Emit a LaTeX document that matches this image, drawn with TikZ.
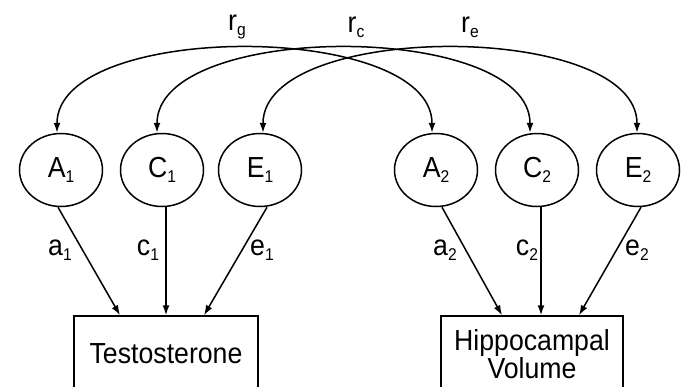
\documentclass[tikz,border=0pt]{standalone}
\usepackage{fontspec}
\setmainfont[FakeStretch=0.92]{Liberation Sans}
\usetikzlibrary{positioning,shapes.geometric,arrows.meta,calc}
\newcommand{\subidx}[1]{\raisebox{-0.3ex}{\fontsize{17}{17}\selectfont #1}}

\begin{document}
\begin{tikzpicture}[
  x=1pt, y=-1pt,
  font=\fontsize{29}{28}\selectfont,
  latent/.style={
    shape=ellipse,
    draw,
    line width=1.5pt,
    minimum width=83pt,
    minimum height=73pt,
    inner sep=0pt,
  },
  observed/.style={
    shape=rectangle,
    draw,
    line width=1.5pt,
    minimum width=184pt,
    minimum height=76pt,
    align=center,
  },
  lbl/.style={inner sep=0pt},
  loading/.style={line width=1.5pt, -{Latex[length=10pt,width=7pt]}},
  corr/.style={line width=1.5pt,
    {Latex[length=10pt,width=7pt]}-{Latex[length=10pt,width=7pt]}},
  ]
  \useasboundingbox (0,0) rectangle (684,386);
  \node[latent] (A1) at (61,170) {A\subidx{1}};
  \node[latent] (C1) at (162,170) {C\subidx{1}};
  \node[latent] (E1) at (260,170) {E\subidx{1}};
  \node[latent] (A2) at (436,170) {A\subidx{2}};
  \node[latent] (C2) at (537,170) {C\subidx{2}};
  \node[latent] (E2) at (638,170) {E\subidx{2}};
  \node[observed] (testo) at (166,354) {Testosterone};
  \node[observed, minimum width=182pt] (hippo) at (532,354) {Hippocampal\\Volume};

  \draw[loading] ([xshift=-3pt]A1.south) -- ([xshift=-46pt]testo.north);
  \draw[loading] ([xshift=4pt]C1.south) -- (testo.north);
  \draw[loading] ([xshift=7pt]E1.south) -- ([xshift=38pt]testo.north);
  \draw[loading] ([xshift=6pt]A2.south) -- ([xshift=-30pt]hippo.north);
  \draw[loading] ([xshift=4pt]C2.south) -- ([xshift=9pt]hippo.north);
  \draw[loading] ([xshift=3pt]E2.south) -- ([xshift=47pt]hippo.north);

  \node[lbl] (a1) at (60,250) {a\subidx{1}};
  \node[lbl] (c1) at (148,250) {c\subidx{1}};
  \node[lbl] (e1) at (262,250) {e\subidx{1}};
  \node[lbl] (a2) at (445,250) {a\subidx{2}};
  \node[lbl] (c2) at (527,250) {c\subidx{2}};
  \node[lbl] (e2) at (637,250) {e\subidx{2}};

  \draw[corr] ([xshift=-4pt]A1.north) .. controls +(0,-112) and +(0,-112) .. ([xshift=-4pt]A2.north);
  \draw[corr] ([xshift=-5pt]C1.north) .. controls +(0,-112) and +(0,-112) .. ([xshift=-7pt]C2.north);
  \draw[corr] ([xshift=3pt]E1.north) .. controls +(0,-112) and +(0,-112) .. ([xshift=-1pt]E2.north);

  \node[lbl] (rg) at (237,27) {r\subidx{g}};
  \node[lbl] (rc) at (356,27) {r\subidx{c}};
  \node[lbl] (re) at (470,27) {r\subidx{e}};
\end{tikzpicture}
\end{document}
